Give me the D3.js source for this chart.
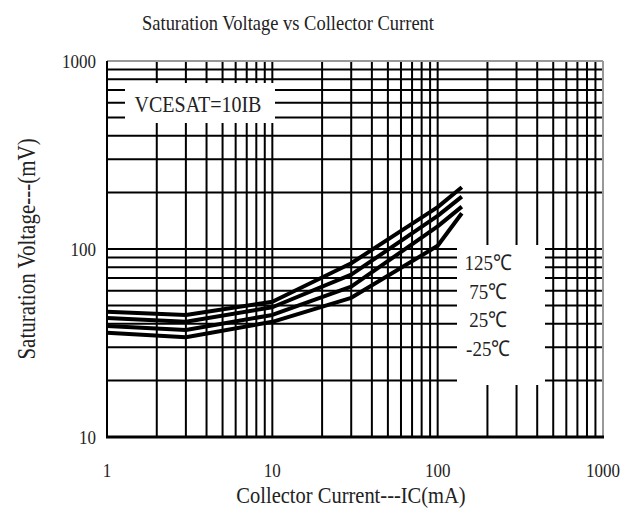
<!DOCTYPE html>
<html>
<head>
<meta charset="utf-8">
<script src="https://cdn.jsdelivr.net/npm/d3@7"></script>
<style>
html,body{margin:0;padding:0;background:#fff;}
svg{display:block;}
text{font-family:"Liberation Serif","Times New Roman",serif;fill:#222;}
</style>
</head>
<body>
<script>
// ---- data ----
const currents = [1, 3, 10, 30, 100, 140];           // IC (mA)
const seriesNames = ["125℃", "75℃", "25℃", "-25℃"];
const v125  = [46.4, 44.6, 52.4, 84, 167, 213];       // mV
const v75   = [42.9, 41.0, 49.0, 73, 150, 190];
const v25   = [38.9, 37.1, 44.6, 63, 132, 168];
const vm25  = [35.9, 33.9, 41.0, 55, 104, 155];
const xTickLabels = ["1", "10", "100", "1000"];
const yTickLabels = ["10", "100", "1000"];
const titleText = "Saturation Voltage vs Collector Current";
const xTitle = "Collector Current---IC(mA)";
const yTitle = "Saturation Voltage---(mV)";
const noteText = "VCESAT=10IB";

const W = 636, H = 513;
const L = 107, R = 603, T = 61, B = 437;
const SY = 1.15; // glyphs in the reference are taller than wide

const svg = d3.select("body").append("svg").attr("width", W).attr("height", H);
const x = d3.scaleLog().domain([1, 1000]).range([L, R]);
const y = d3.scaleLog().domain([10, 1000]).range([B, T]);

function addText(px, py, str, size, anchor, sx, rot) {
  return svg.append("text")
    .attr("transform", `translate(${px},${py})` + (rot ? ` rotate(${rot})` : "") + ` scale(${sx || 1},${SY})`)
    .attr("text-anchor", anchor || "middle").attr("font-size", size).text(str);
}

// grid
const g = svg.append("g");
const xt = x.ticks().filter(d => d > 1 && d < 1000);
const yt = y.ticks().filter(d => d > 10 && d < 1000);
g.selectAll(".vx").data(xt).enter().append("line")
  .attr("x1", d => x(d)).attr("x2", d => x(d)).attr("y1", T).attr("y2", B)
  .attr("stroke", "#000").attr("stroke-width", 2);
g.selectAll(".hy").data(yt).enter().append("line")
  .attr("x1", L).attr("x2", R).attr("y1", d => y(d)).attr("y2", d => y(d))
  .attr("stroke", "#000").attr("stroke-width", 2);
// border
g.append("line").attr("x1", L).attr("x2", R).attr("y1", T).attr("y2", T).attr("stroke", "#999").attr("stroke-width", 2);
g.append("line").attr("x1", R).attr("x2", R).attr("y1", T).attr("y2", B).attr("stroke", "#999").attr("stroke-width", 2);
g.append("line").attr("x1", L).attr("x2", L).attr("y1", T).attr("y2", B).attr("stroke", "#000").attr("stroke-width", 2);
g.append("line").attr("x1", L - 1).attr("x2", R + 1).attr("y1", B).attr("y2", B).attr("stroke", "#000").attr("stroke-width", 3);

// white label boxes
svg.append("rect").attr("x", 125).attr("y", 83).attr("width", 150).attr("height", 40).attr("fill", "#fff");
svg.append("rect").attr("x", 457).attr("y", 245).attr("width", 88).attr("height", 140).attr("fill", "#fff");

// curves
const allSeries = [v125, v75, v25, vm25];
const line = d3.line().x((d, i) => x(currents[i])).y(d => y(d));
svg.selectAll(".curve").data(allSeries).enter().append("path")
  .attr("d", d => line(d)).attr("fill", "none").attr("stroke", "#000")
  .attr("stroke-width", 4).attr("stroke-linejoin", "round");

// labels
addText(198, 112, noteText, 20, "middle");
seriesNames.forEach((s, i) => addText(488, 270 + i * 28.5, s, 19, "middle"));

// tick labels
xTickLabels.forEach(t => addText(x(+t), 477, t, 17, "middle"));
yTickLabels.forEach(t => addText(96, y(+t) + 7, t, 17, "end"));

// titles
addText(288, 30, titleText, 18.5, "middle");
addText(351, 503, xTitle, 20.5, "middle");
addText(35, 249, yTitle, 21, "middle", 1, -90);
</script>
</body>
</html>
